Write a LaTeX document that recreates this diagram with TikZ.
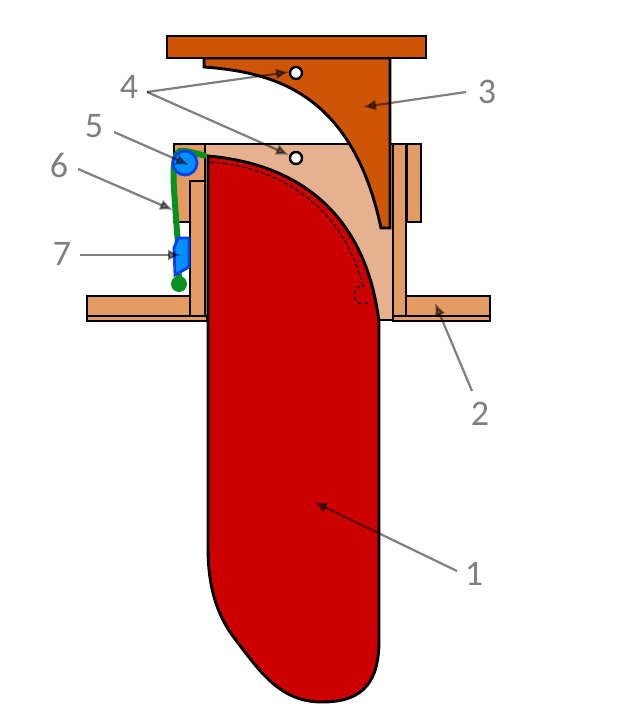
\documentclass[tikz,border=0pt]{standalone}
\usepackage{fontspec}
\setmainfont{Carlito}
\usetikzlibrary{arrows.meta}
\definecolor{woodA}{HTML}{E39A63}
\definecolor{woodB}{HTML}{E5B18F}
\definecolor{rust}{HTML}{CE5505}
\definecolor{redfin}{HTML}{CC0000}
\definecolor{bluefill}{HTML}{0090FF}
\definecolor{blueline}{HTML}{0A3FF0}
\definecolor{greenc}{HTML}{0A9020}
\definecolor{labelgray}{HTML}{7F7F7F}
\tikzset{
  part/.style={draw=black,line width=2.9pt,line join=miter},
  wood/.style={part,fill=woodA},
  lab/.style={text=labelgray,font=\fontsize{36}{36}\selectfont,inner sep=0pt},
  callout/.style={draw=black,opacity=.5,line width=2.2pt,-{Latex[length=13pt,width=11pt]}},
  hole/.style={circle,draw=black,line width=2.4pt,fill=white,minimum size=12pt,inner sep=0pt},
}
\begin{document}
\begin{tikzpicture}[x=1pt,y=-1pt]
\useasboundingbox (0,0) rectangle (640,720);
% light housing
\draw[part,fill=woodB] (205,144) -- (393,144) -- (393,320) -- (205,320) -- cycle;
% walls and flanges
\draw[wood] (174,144) rectangle (205,222);
\draw[wood] (190,181) rectangle (205,316);
\draw[wood] (87,296) rectangle (190,316);
\draw[wood] (87,316) rectangle (207,321);
\draw[wood] (393,144) rectangle (406,316);
\draw[wood] (407,144) rectangle (421,222);
\draw[wood] (406,296) rectangle (490,316);
\draw[wood] (393,316) rectangle (490,321);
% rust bracket
\draw[part,fill=rust] (204,58) -- (204,67)
  .. controls (270,72) and (352,90) .. (381,228) -- (390,228) -- (390,58) -- cycle;
\draw[part,fill=rust] (167,36) rectangle (426,58);
% red fin
\draw[part,fill=redfin] (208,156)
  .. controls (300,164) and (366,215) .. (379,322)
  -- (379,640)
  .. controls (379,680) and (365,702) .. (322,702)
  .. controls (280,702) and (260,672) .. (232,635)
  .. controls (216,612) and (208,585) .. (208,548)
  -- cycle;
\draw[dashed,line width=1.1pt,dash pattern=on 4pt off 2.5pt] (210,162)
  .. controls (290,168) and (345,215) .. (363,286)
  arc[start angle=-90,end angle=-320,radius=9];
% holes
\node[hole] (holeA) at (296,73) {};
\node[hole] (holeB) at (296,158) {};
% green cord and blue parts
\draw[greenc,line width=6pt] (206,156) .. controls (195,153) and (185,150) .. (180,151)
  .. controls (173,155) and (173,170) .. (174,190) -- (178,245) -- (179,284);
\node[circle,fill=greenc,minimum size=16pt,inner sep=0pt] (ball) at (179,284) {};
\draw[draw=blueline,line width=2.8pt,fill=bluefill] (189,238) -- (178,238) -- (174,248) -- (175,275) -- (189,267) -- cycle;
\node[circle,draw=blueline,line width=2.8pt,fill=bluefill,minimum size=24pt,inner sep=0pt] (wheel) at (185,163) {};
% labels
\node[lab] (l4) at (129,87) {4};
\node[lab] (l3) at (487,92) {3};
\node[lab] (l5) at (94,126) {5};
\node[lab] (l6) at (59,165) {6};
\node[lab] (l7) at (62,254) {7};
\node[lab] (l2) at (480,414) {2};
\node[lab] (l1) at (474,574) {1};
% callout ends
\coordinate (s4) at (147,92);
\coordinate (e4a) at (289,72);
\coordinate (e4b) at (289,155);
\coordinate (s3) at (466,92);
\coordinate (e3) at (363,107);
\coordinate (s5) at (114,132);
\coordinate (e5) at (189,165);
\coordinate (s6) at (78,169);
\coordinate (e6) at (173,210);
\coordinate (s7) at (80,255);
\coordinate (e7) at (181,255);
\coordinate (s2) at (472,391);
\coordinate (e2) at (435,303);
\coordinate (s1) at (457,571);
\coordinate (e1) at (314,502);
\draw[callout] (s4) -- (e4a);
\draw[callout] (s4) -- (e4b);
\draw[callout] (s3) -- (e3);
\draw[callout] (s5) -- (e5);
\draw[callout] (s6) -- (e6);
\draw[callout] (s7) -- (e7);
\draw[callout] (s2) -- (e2);
\draw[callout] (s1) -- (e1);
\end{tikzpicture}
\end{document}
